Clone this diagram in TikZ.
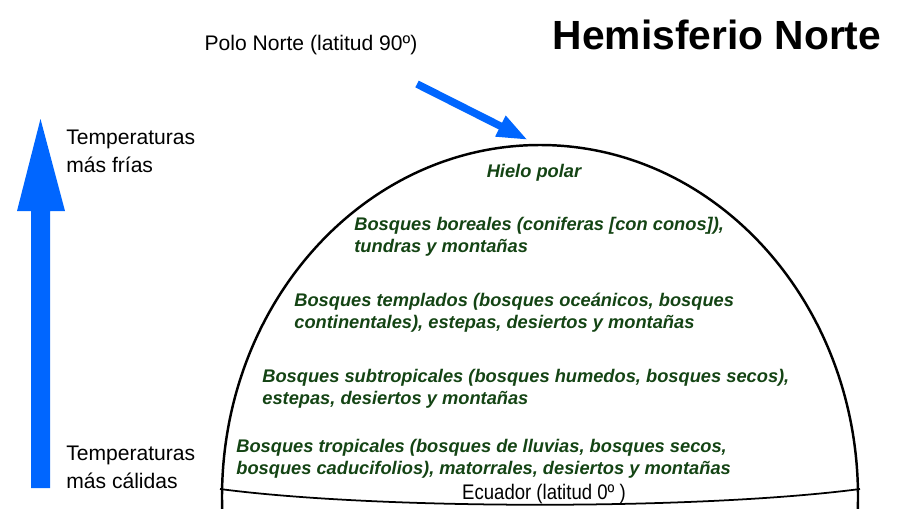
\documentclass[tikz,border=0pt]{standalone}
\usepackage{fontspec}
\setmainfont{Liberation Sans}
\usepackage{xcolor}
\usetikzlibrary{arrows.meta,positioning}
\definecolor{arrowblue}{RGB}{0,102,255}
\definecolor{zonegreen}{RGB}{20,68,20}
\tikzset{
  zone/.style={anchor=west, inner sep=0pt, align=left, text=zonegreen,
    font=\fontsize{10.4}{12.5}\selectfont\bfseries\itshape},
  note/.style={inner sep=0pt, align=left, font=\fontsize{12}{15.9}\selectfont},
}
\begin{document}
\begin{tikzpicture}[x=0.02cm, y=-0.02cm]
    \clip (0,0) rectangle (899,508);
    \useasboundingbox (0,0) rectangle (899,508);

    % hemisphere and equator
    \draw[line width=1.4pt] (540,497) ellipse [x radius=318, y radius=352];
    \coordinate (eqW) at (220,489);
    \coordinate (eqE) at (860,489);
    \draw[line width=1pt] (eqW) .. controls (380,510) and (700,510) .. (eqE);

    % temperature arrow
    \fill[arrowblue] (31,488) -- (31,211) -- (17,211) -- (40.5,119) -- (65,211) -- (50,211) -- (50,488) -- cycle;
    \node[note, anchor=west] (cold) at (66,151) {Temperaturas\\más frías};
    \node[note, anchor=west] (warm) at (66,467) {Temperaturas\\más cálidas};

    % Polo Norte arrow
    \node[note] (polo) at (311,45) {Polo Norte (latitud 90º)};
    \coordinate (poloS) at (417,84);
    \coordinate (poloT) at (528,140);
    \draw[arrowblue, line width=4.3pt, -{Triangle[length=17.6pt, width=12pt]}] (poloS) -- (poloT);

    \node[inner sep=0pt, font=\fontsize{23.2}{28}\selectfont\bfseries] (title) at (717,35) {Hemisferio Norte};

    % zones
    \node[zone, anchor=center] (hielo) at (534,173) {Hielo polar};
    \node[zone] (boreal) at (354,237) {Bosques boreales (coniferas [con conos]),\\tundras y montañas};
    \node[zone] (templ) at (294,313) {Bosques templados (bosques oceánicos, bosques\\continentales), estepas, desiertos y montañas};
    \node[zone] (subtrop) at (262,388.5) {Bosques subtropicales (bosques humedos, bosques secos),\\estepas, desiertos y montañas};
    \node[zone] (trop) at (236,459) {Bosques tropicales (bosques de lluvias, bosques secos,\\bosques caducifolios), matorrales, desiertos y montañas};
    \node[note] (ecuador) at (544,494) {\scalebox{0.88}[1]{Ecuador (latitud 0º )}};
\end{tikzpicture}
\end{document}
